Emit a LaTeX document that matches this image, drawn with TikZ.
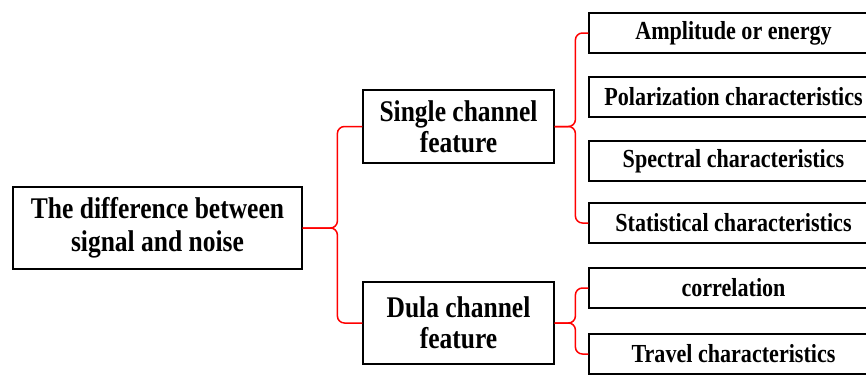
\documentclass[tikz,border=0pt]{standalone}
\usepackage{fontspec}
\setmainfont{Liberation Serif}[FakeStretch=0.85]
\usetikzlibrary{calc}

% one red bracket from a parent box to its first and last child
\newcommand{\fork}[4]{%
  \path (#2.west) ++(-#4,0) coordinate (ft)
        (ft |- #1.east) coordinate (fm);
  \draw[brk] (#2.west) -| (fm) -- (#1.east);
  \draw[brk] (#3.west) -| (fm) -- (#1.east);
}

\begin{document}
\begin{tikzpicture}[
  x=1pt, y=1pt,
  box/.style={draw, line width=1.2pt, align=center, inner sep=0pt,
              font=\bfseries\fontsize{30}{31}\selectfont},
  big/.style={box, minimum width=289pt, minimum height=82pt,
              font=\bfseries\fontsize{30}{33}\selectfont},
  mid/.style={box, minimum width=191pt},
  leaf/.style={box, minimum width=289pt, minimum height=40pt,
               font=\bfseries\fontsize{26}{28}\selectfont},
  brk/.style={red, line width=1.5pt, rounded corners=7pt}
]
\useasboundingbox (0,0) rectangle (866,376);
\clip (0,0) rectangle (866,376);

\node[big] (root) at (157.5,148) {The difference between\\signal and noise};
\node[mid, minimum height=73pt] (single) at (458.5,249.5) {Single channel\\feature};
\node[mid, minimum height=82pt] (dual)   at (458.5,53)    {Dula channel\\feature};

\node[leaf] (amp)  at (733.5,343) {Amplitude or energy};
\node[leaf] (pol)  at (733.5,279) {Polarization characteristics};
\node[leaf] (spec) at (733.5,215) {Spectral characteristics};
\node[leaf] (stat) at (733.5,153) {Statistical characteristics};
\node[leaf] (corr) at (733.5,88)  {correlation};
\node[leaf] (trav) at (733.5,22)  {Travel characteristics};

\fork{root}{single}{dual}{25pt}
\fork{single}{amp}{stat}{13pt}
\fork{dual}{corr}{trav}{13pt}
\end{tikzpicture}
\end{document}
